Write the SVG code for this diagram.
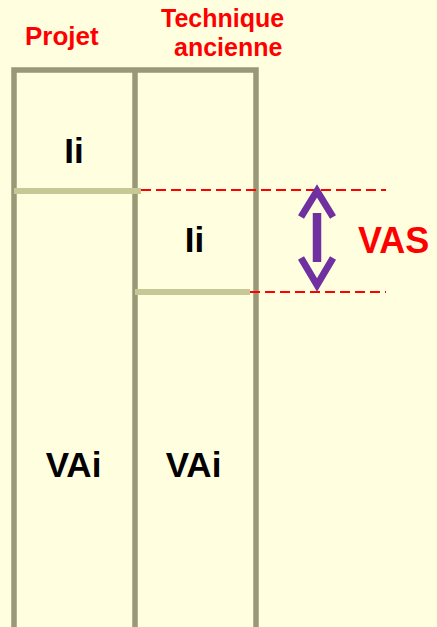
<svg xmlns="http://www.w3.org/2000/svg" width="437" height="627" viewBox="0 0 437 627">
<style>
.frame{stroke:#999977;stroke-width:5.5;fill:none}
.bar{stroke:#c8c896;stroke-width:6;fill:none}
.dash{stroke:#ff0000;stroke-width:1.8;stroke-dasharray:10 5;fill:none}
.hdr{font-family:"Liberation Sans",Arial,sans-serif;font-weight:bold;fill:#ff0000;font-size:26px}
.hdr2{font-family:"Liberation Sans",Arial,sans-serif;font-weight:bold;fill:#ff0000;font-size:25px}
.lbl{font-family:"Liberation Sans",Arial,sans-serif;font-weight:bold;fill:#000;font-size:35px;text-anchor:middle}
.arr{stroke:#7030a0;stroke-width:7;fill:none;stroke-miterlimit:10}
</style>
<rect width="437" height="627" fill="#ffffe0"/>
<g id="headers">
<text class="hdr" x="25" y="45">Projet</text>
<text class="hdr2" x="161" y="27">Technique</text>
<text class="hdr2" x="174" y="56">ancienne</text>
</g>
<g id="frame">
<path class="frame" d="M14 627V70H256V627M135 70V627"/>
</g>
<g id="bars">
<line class="bar" x1="14" y1="191" x2="141" y2="191"/>
<line class="bar" x1="135" y1="292" x2="250" y2="292"/>
</g>
<g id="connectors">
<line class="dash" x1="141" y1="190" x2="386" y2="190"/>
<line class="dash" x1="250" y1="292" x2="386" y2="292"/>
<g id="vas-arrow">
<polyline class="arr" points="301,217 317,191 333,217"/>
<line class="arr" x1="317" y1="213" x2="317" y2="262" style="stroke-width:8.5"/>
<polyline class="arr" points="301,258 317,285 333,258"/>
</g>
</g>
<g id="labels">
<text class="lbl" x="74" y="163">Ii</text>
<text class="lbl" x="194.5" y="252">Ii</text>
<text class="lbl" x="73.5" y="477">VAi</text>
<text class="lbl" x="193.5" y="477">VAi</text>
<text x="358" y="253" style="font-family:'Liberation Sans',Arial,sans-serif;font-weight:bold;fill:#ff0000;font-size:36px">VAS</text>
</g>
</svg>
